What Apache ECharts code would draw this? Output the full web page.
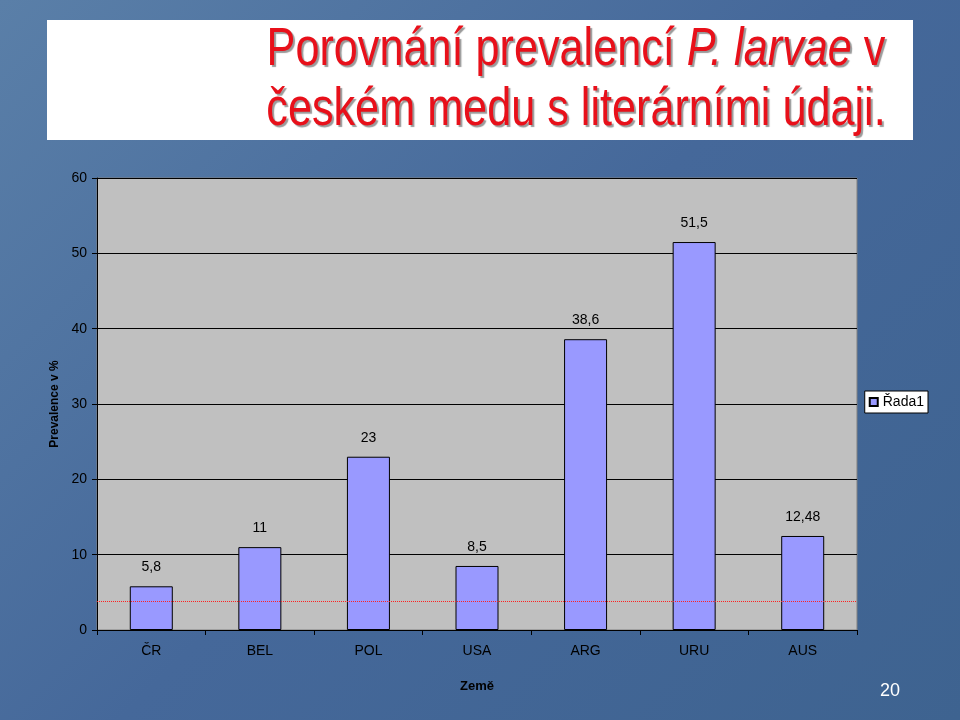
<!DOCTYPE html>
<html><head><meta charset="utf-8">
<script src="https://cdn.jsdelivr.net/npm/echarts@6/dist/echarts.min.js"></script>
<style>html,body{margin:0;padding:0;}#c{width:960px;height:720px;background:linear-gradient(135deg,#5a7fa8,#45689a 50%,#3e6390);}</style>
</head><body><div id="c"></div>
<script>
const categories = ['ČR','BEL','POL','USA','ARG','URU','AUS'];
const values = [5.8, 11, 23, 8.5, 38.6, 51.5, 12.48];
const refLevel = 3.8;
const seriesName = 'Řada1';
const chart = echarts.init(document.getElementById('c'));
chart.setOption({
  animation:false,
  graphic:[
    {type:'rect',shape:{x:47,y:20,width:866,height:120},style:{fill:'#fff'}},
    {type:'text',x:480,y:20,originX:480,scaleX:0.8,style:{text:'Porovnání prevalencí {i|P. larvae} v\nčeském medu s literárními údaji.',font:'54px "Liberation Sans", Arial, sans-serif',fill:'#e8101a',align:'center',lineHeight:60,textShadowColor:'rgba(0,0,0,0.4)',textShadowOffsetX:2,textShadowOffsetY:2,textShadowBlur:1,rich:{i:{fontStyle:'italic',fontSize:54,fill:'#e8101a',fontFamily:'"Liberation Sans", Arial, sans-serif',textShadowColor:'rgba(0,0,0,0.4)',textShadowOffsetX:2,textShadowOffsetY:2}}}},
    {type:'text',left:880,top:682,style:{text:'20',font:'18px Arial',fill:'#fff'}}
  ],
  grid:{left:97,right:103,top:178,bottom:90,show:true,backgroundColor:'#c0c0c0',borderColor:'#808080',borderWidth:1},
  legend:{right:32,top:391,orient:'vertical',backgroundColor:'#fff',borderColor:'#000',borderWidth:1,padding:[4,4],icon:'rect',itemWidth:8,itemHeight:8,itemGap:0,textStyle:{fontFamily:'Arial',fontSize:14,color:'#000'},data:[seriesName]},
  xAxis:{type:'category',data:categories,name:'Země',nameLocation:'middle',nameGap:50,nameTextStyle:{fontFamily:'Arial',fontWeight:'bold',fontSize:13,color:'#000'},axisLine:{lineStyle:{color:'#000'}},axisTick:{show:true,lineStyle:{color:'#000'}},axisLabel:{fontFamily:'Arial',fontSize:14,color:'#000',margin:14}},
  yAxis:{type:'value',min:0,max:60,interval:10,name:'Prevalence v %',nameLocation:'middle',nameGap:36,nameTextStyle:{fontFamily:'Arial',fontWeight:'bold',fontSize:12,color:'#000'},axisLine:{show:true,lineStyle:{color:'#000'}},axisTick:{show:true,lineStyle:{color:'#000'}},axisLabel:{fontFamily:'Arial',fontSize:14,color:'#000',margin:10},splitLine:{lineStyle:{color:'#000',width:1}}},
  series:[{name:seriesName,type:'bar',data:values,barWidth:43,itemStyle:{color:'#9999ff',borderColor:'#000',borderWidth:1},
    label:{show:true,position:'top',distance:12,fontFamily:'Arial',fontSize:14,color:'#000',formatter:p=>String(p.value).replace('.',',')},
    markLine:{silent:true,symbol:'none',label:{show:false},data:[{yAxis:refLevel,lineStyle:{color:'#ff2020',type:'dotted',width:1,opacity:1}}]}}]
});
</script></body></html>
